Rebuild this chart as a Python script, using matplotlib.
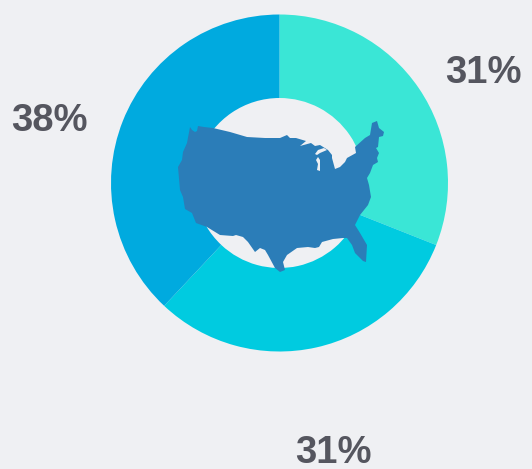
import matplotlib
matplotlib.use("Agg")
import matplotlib.pyplot as plt
import numpy as np

shares = [31, 31, 38]
share_labels = ["31%", "31%", "38%"]
colors = ["#3AE6D6", "#00CBE0", "#00AADF"]

W, H = 532, 469
bg = "#EFF0F3"
map_color = "#2B7DB8"

# outline of the map, in image pixels (y down)
usa = [(190,127),(192,130),(195,132),(197,131),(198,126),(204,127),(213,128),(230,132),(247,137),
       (265,138),(280,138),(287,135),(290,138),(296,138),(306,141),(300,146),(311,143),(315,146),
       (320,145),(328,150),(332,155),(332,158),(335,169),(340,167),(345,162),(347,158),(356,153),
       (355,147),(365,138),(370,135),(372,123),(377,121),(379,128),(384,132),(383,136),(379,137),
       (378,147),(376,148),(379,153),(377,158),(378,162),(373,165),(370,173),(367,178),(369,185),
       (371,197),(368,205),(360,215),(355,225),(360,233),(367,245),(366,262),(363,261),(355,253),
       (352,245),(347,238),(343,238),(333,239),(322,242),(319,247),(315,248),(308,247),(297,248),
       (287,255),(283,262),(285,270),(280,272),(275,268),(268,255),(265,250),(260,248),(255,252),
       (248,242),(243,237),(236,235),(233,236),(220,235),(207,227),(196,223),(192,213),(185,209),
       (183,197),(180,190),(178,167),(182,160),(183,152),(187,143)]
lake_sup = [(315,154),(318,150),(324,148),(327,150),(320,153),(317,155)]
lake_mich = [(316,160),(318,157),(320,160),(320,171),(317,170),(318,164)]

fig, ax = plt.subplots(figsize=(W/100, H/100), dpi=100, facecolor=bg)
ax.set_position([0, 0, 1, 1])

ax.pie(shares, colors=colors, startangle=90, counterclock=False,
       center=(279.5, H-183), radius=168.5,
       wedgeprops=dict(width=83.5, linewidth=0))
ax.set_xlim(0, W)
ax.set_ylim(0, H)
ax.set_aspect("equal")
ax.axis("off")

def flip(pts):
    a = np.array(pts, dtype=float)
    a[:, 1] = H - a[:, 1]
    return a

ax.fill(*flip(usa).T, color=map_color, lw=0, zorder=3)
for lake in [lake_sup, lake_mich]:
    ax.fill(*flip(lake).T, color=bg, lw=0, zorder=4)

# labels
label_x = [483.5, 333.5, 49.5]
label_y = [72.5, 452.5, 120.5]
for s, x, y in zip(share_labels, label_x, label_y):
    ax.text(x, H-y, s, fontsize=27.5, fontweight="bold", family="Liberation Sans",
            color="#55565F", ha="center", va="center", zorder=5)

fig.savefig("out.png", dpi=100, facecolor=bg)
